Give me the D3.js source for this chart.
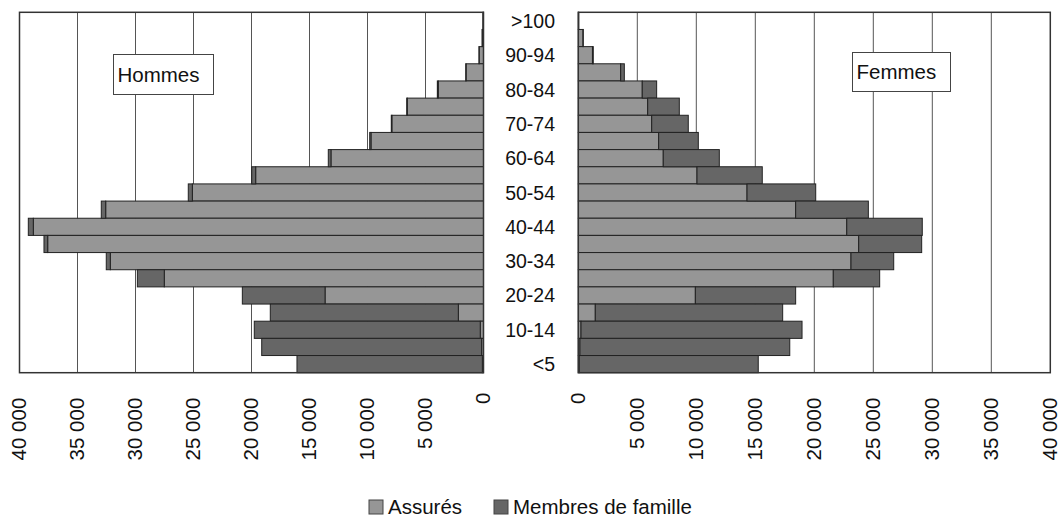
<!DOCTYPE html>
<html>
<head>
<meta charset="utf-8">
<script src="https://cdn.jsdelivr.net/npm/d3@7"></script>
<style>
  body { margin: 0; background: #fff; }
  svg { font-family: "Liberation Sans", Arial, sans-serif; }
</style>
</head>
<body>
<svg id="chart" width="1058" height="517"></svg>
<script>
// age groups, top to bottom
const ageGroups = [">100", "95-99", "90-94", "85-89", "80-84", "75-79", "70-74", "65-69",
  "60-64", "55-59", "50-54", "45-49", "40-44", "35-39", "30-34", "25-29",
  "20-24", "15-19", "10-14", "5-9", "<5"];
const ageLabels = [">100", "90-94", "80-84", "70-74", "60-64", "50-54", "40-44",
  "30-34", "20-24", "10-14", "<5"];

const menInsured = [30, 100, 370, 1500, 3900, 6570, 7900, 9700, 13150, 19640, 25100,
  32570, 38810, 37570, 32170, 27520, 13660, 2170, 280, 160, 100];
const menFamily = [20, 20, 20, 30, 80, 50, 50, 110, 230, 340, 350,
  380, 430, 320, 350, 2320, 7130, 16210, 19480, 18960, 15980];

const womenInsured = [30, 400, 1200, 3590, 5420, 5880, 6220, 6810, 7200, 10060, 14300,
  18420, 22750, 23760, 23110, 21610, 9920, 1440, 230, 140, 80];
const womenFamily = [10, 20, 70, 310, 1220, 2680, 3100, 3360, 4750, 5530, 5820,
  6160, 6400, 5340, 3620, 3930, 8500, 15880, 18730, 17780, 15170];

const xTicks = [0, 5000, 10000, 15000, 20000, 25000, 30000, 35000, 40000];
const seriesNames = ["Assurés", "Membres de famille"];
const colors = { insured: "#969696", family: "#666666" };

const svg = d3.select("#chart");
const plotTop = 12.3, plotBottom = 372.7;

const y = d3.scaleBand().domain(ageGroups).range([plotTop, plotBottom]).padding(0);
const xL = d3.scaleLinear().domain([0, 40000]).range([483.5, 19.5]);
const xR = d3.scaleLinear().domain([0, 40000]).range([578.3, 1050.3]);

const fmt = (d) => d3.format(",")(d).replace(/,/g, " ");

function panel(x, insured, family) {
  const g = svg.append("g");
  const [r0, r1] = x.range();
  const xmin = Math.min(r0, r1), xmax = Math.max(r0, r1);

  // gridlines
  g.selectAll(".grid")
    .data(xTicks.slice(1, -1))
    .enter()
    .append("line")
    .attr("x1", (d) => x(d)).attr("x2", (d) => x(d))
    .attr("y1", plotTop).attr("y2", plotBottom)
    .attr("stroke", "#555").attr("stroke-width", 1);

  const rows = ageGroups.map((a, i) => ({ age: a, ins: insured[i], fam: family[i] }));

  // assurés from zero
  g.selectAll(".ins")
    .data(rows)
    .enter()
    .append("rect")
    .attr("x", (d) => Math.min(x(0), x(d.ins)))
    .attr("width", (d) => Math.abs(x(d.ins) - x(0)))
    .attr("y", (d) => y(d.age))
    .attr("height", y.bandwidth())
    .attr("fill", colors.insured)
    .attr("stroke", "#222").attr("stroke-width", 1);

  // membres de famille stacked after
  g.selectAll(".fam")
    .data(rows)
    .enter()
    .append("rect")
    .attr("x", (d) => Math.min(x(d.ins), x(d.ins + d.fam)))
    .attr("width", (d) => Math.abs(x(d.ins + d.fam) - x(d.ins)))
    .attr("y", (d) => y(d.age))
    .attr("height", y.bandwidth())
    .attr("fill", colors.family)
    .attr("stroke", "#222").attr("stroke-width", 1);

  // frame
  g.append("rect")
    .attr("x", xmin).attr("y", plotTop)
    .attr("width", xmax - xmin).attr("height", plotBottom - plotTop)
    .attr("fill", "none").attr("stroke", "#333").attr("stroke-width", 1.5);

  // axis
  const ax = g.append("g")
    .attr("transform", `translate(0,${plotBottom})`)
    .call(d3.axisBottom(x).tickValues(xTicks).tickSize(0).tickFormat(fmt));
  ax.select(".domain").remove();
  ax.selectAll("text")
    .attr("font-size", 20.5)
    .attr("fill", "#111")
    .attr("text-anchor", "end")
    .attr("dy", "0.3em")
    .attr("transform", (d) => `translate(0,${d === 0 ? 20 : 25}) rotate(-90)`)
    .attr("x", 0).attr("y", 0);
}

panel(xL, menInsured, menFamily);
panel(xR, womenInsured, womenFamily);

// age labels
svg.append("g")
  .selectAll("text")
  .data(ageLabels)
  .enter()
  .append("text")
  .attr("x", 555)
  .attr("y", (d) => y(d) + y.bandwidth() / 2)
  .attr("dy", "0.36em")
  .attr("text-anchor", "end")
  .attr("font-size", 19.5)
  .attr("fill", "#111")
  .text((d) => d);

// panel titles
function titleBox(x0, y0, w, h, label) {
  svg.append("rect")
    .attr("x", x0).attr("y", y0).attr("width", w).attr("height", h)
    .attr("fill", "#fff").attr("stroke", "#444").attr("stroke-width", 1);
  svg.append("text")
    .attr("x", x0 + 4).attr("y", y0 + h / 2)
    .attr("dy", "0.36em")
    .attr("font-size", 20.5)
    .attr("fill", "#111")
    .text(label);
}
titleBox(113.5, 54.5, 100, 40, "Hommes");
titleBox(852.5, 52.5, 98, 39, "Femmes");

// legend
const legend = svg.append("g").attr("transform", "translate(369,498)");
const legendItems = [
  { name: seriesNames[0], color: colors.insured, x: 0 },
  { name: seriesNames[1], color: colors.family, x: 125 }
];
legendItems.forEach((it) => {
  legend.append("rect")
    .attr("x", it.x).attr("y", 2).attr("width", 14).attr("height", 14)
    .attr("fill", it.color).attr("stroke", "#444").attr("stroke-width", 1);
  legend.append("text")
    .attr("x", it.x + 19).attr("y", 9)
    .attr("dy", "0.36em")
    .attr("font-size", 20.5)
    .attr("fill", "#111")
    .text(it.name);
});
</script>
</body>
</html>
